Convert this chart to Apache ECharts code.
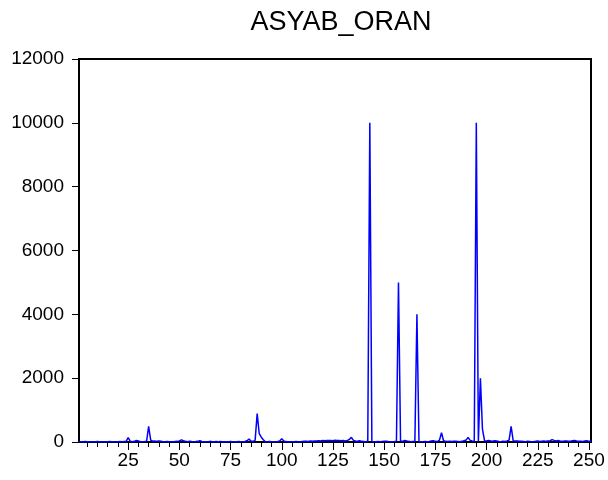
<!DOCTYPE html>
<html>
<head>
<meta charset="utf-8">
<title>ASYAB_ORAN</title>
<script src="https://cdn.jsdelivr.net/npm/echarts@6/dist/echarts.min.js"></script>
<style>
    html, body { margin: 0; padding: 0; background: #fff; }
    #chart { width: 608px; height: 480px; }
</style>
</head>
<body>
<div id="chart"></div>
<script>
// observations 1..251
const obs = [];
for (let i = 1; i <= 251; i++) obs.push(String(i));

// ASYAB_ORAN values
const asyabOran = [
    10, 5, 8, 12, 6, 10, 8, 5, 10, 12,
    8, 6, 10, 5, 8, 12, 10, 6, 8, 10,
    12, 8, 15, 20, 140, 25, 10, 20, 45, 35,
    10, 8, 12, 20, 490, 60, 25, 35, 20, 30,
    25, 10, 8, 12, 10, 6, 10, 15, 20, 35,
    65, 40, 20, 10, 25, 15, 8, 12, 20, 40,
    15, 10, 8, 6, 20, 10, 8, 12, 10, 15,
    10, 8, 6, 10, 12, 8, 10, 6, 12, 10,
    8, 15, 40, 90, 30, 15, 60, 890, 260, 150,
    70, 10, 8, 12, 6, 10, 8, 15, 30, 100,
    30, 12, 8, 10, 6, 8, 12, 10, 8, 15,
    20, 25, 15, 30, 25, 35, 30, 40, 35, 45,
    40, 50, 45, 50, 40, 55, 50, 45, 40, 50,
    35, 45, 80, 145, 50, 30, 25, 40, 20, 15,
    10, 20, 10000, 15, 10, 8, 12, 10, 15, 20,
    25, 15, 10, 8, 12, 20, 5000, 30, 20, 45,
    35, 20, 10, 15, 20, 4000, 15, 10, 8, 12,
    10, 15, 30, 40, 20, 15, 60, 290, 40, 20,
    15, 20, 15, 25, 20, 15, 10, 20, 40, 60,
    145, 50, 30, 20, 10000, 20, 2000, 400, 40, 30,
    45, 35, 25, 40, 30, 15, 10, 20, 15, 30,
    60, 490, 40, 30, 35, 25, 20, 15, 10, 20,
    15, 10, 12, 20, 30, 15, 25, 35, 20, 30,
    40, 75, 50, 30, 45, 25, 20, 35, 30, 20,
    25, 40, 50, 30, 20, 25, 15, 35, 40, 20,
    15
];

// y axis ticks
const yMin = 0;
const yMax = 12000;
const yStep = 2000;

const fontName = '"Liberation Sans", Arial, sans-serif';

let chart = echarts.init(document.getElementById('chart'));
let option = {
    animation: false,
    backgroundColor: '#fff',
    title: {
        text: 'ASYAB_ORAN',
        left: 336,
        top: 4,
        textAlign: 'center',
        textStyle: { fontFamily: fontName, fontSize: 27, fontWeight: 'normal', color: '#000' }
    },
    grid: {
        left: 79,
        right: 17,
        top: 59,
        bottom: 38,
        show: true,
        borderColor: '#000',
        borderWidth: 2,
        backgroundColor: 'transparent'
    },
    xAxis: [
        {
            // minor ticks every 5
            type: 'category',
            position: 'bottom',
            data: obs,
            boundaryGap: false,
            axisLine: { lineStyle: { color: '#000', width: 2 } },
            axisTick: {
                length: 5,
                lineStyle: { color: '#000', width: 1 },
                interval: function (idx, val) { return Number(val) % 5 === 0; }
            },
            axisLabel: { show: false },
            splitLine: { show: false }
        },
        {
            // major ticks + labels every 25
            type: 'category',
            position: 'bottom',
            offset: 0,
            data: obs,
            boundaryGap: false,
            axisLine: { show: false },
            axisTick: {
                length: 8,
                lineStyle: { color: '#000', width: 1 },
                interval: function (idx, val) { return Number(val) % 25 === 0; }
            },
            axisLabel: {
                interval: function (idx, val) { return Number(val) % 25 === 0; },
                margin: 9,
                fontFamily: fontName,
                fontSize: 19,
                color: '#000'
            },
            splitLine: { show: false }
        }
    ],
    yAxis: {
        type: 'value',
        min: yMin,
        max: yMax,
        interval: yStep,
        axisLine: { show: true, lineStyle: { color: '#000', width: 2 } },
        axisTick: { show: true, length: 7, lineStyle: { color: '#000', width: 1 } },
        axisLabel: {
            margin: 15,
            fontFamily: fontName,
            fontSize: 19,
            color: '#000',
            formatter: function (v) { return String(v); }
        },
        splitLine: { show: false }
    },
    series: [
        {
            name: 'ASYAB_ORAN',
            type: 'line',
            xAxisIndex: 0,
            data: asyabOran,
            showSymbol: false,
            lineStyle: { color: '#0000ff', width: 1.5 },
            itemStyle: { color: '#0000ff' }
        }
    ]
};
chart.setOption(option);
</script>
</body>
</html>
